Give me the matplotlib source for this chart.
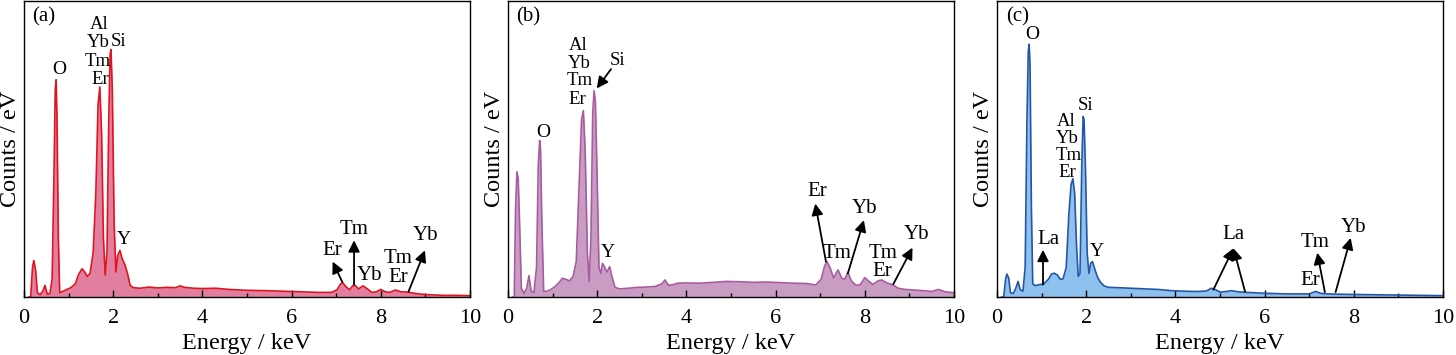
import matplotlib
matplotlib.use("Agg")
import matplotlib.pyplot as plt
from matplotlib.ticker import MultipleLocator

plt.rcParams['font.family'] = ['Liberation Serif', 'DejaVu Serif']

# EDS spectra (counts in % of the axis height)
E_a = [0.10, 0.15, 0.19, 0.22, 0.26, 0.30, 0.36, 0.42, 0.47, 0.52, 0.58, 0.63, 0.67, 0.70, 0.72, 0.74,
       0.77, 0.80, 0.85, 0.95, 1.05, 1.15, 1.22, 1.30, 1.36, 1.42, 1.48, 1.55, 1.61, 1.66, 1.70, 1.74,
       1.78, 1.82, 1.86, 1.90, 1.93, 1.95, 1.98, 2.02, 2.06, 2.10, 2.15, 2.20, 2.26, 2.32, 2.38, 2.45,
       2.6, 2.8, 3.0, 3.2, 3.4, 3.5, 3.6, 3.8, 4.0, 4.3, 4.6, 5.0, 5.4, 5.8, 6.2, 6.6, 6.9, 7.02, 7.1,
       7.15, 7.22, 7.3, 7.38, 7.42, 7.5, 7.6, 7.68, 7.8, 7.9, 8.0, 8.1, 8.2, 8.33, 8.45, 8.6, 8.75,
       8.9, 9.1, 9.4, 9.7, 10.0]
counts_a = [0, 0, 10, 12.4, 9, 1.5, 0.8, 2, 4, 1.0, 1.2, 6, 40, 70, 73.4, 60,
            20, 1.5, 1.8, 2.5, 3.2, 4.5, 7.5, 9.6, 8.5, 7.0, 8, 15, 35, 65, 71, 55,
            20, 7.5, 15, 60, 82, 83.6, 70, 25, 8.5, 14, 15.8, 13, 11, 8, 4, 3.2,
            3.0, 3.4, 3.1, 3.3, 3.2, 3.8, 3.3, 3.0, 2.9, 3.0, 2.6, 2.3, 2.2, 2.0, 1.8, 1.6, 1.6, 2.5, 4.5,
            4.8, 3.5, 2.5, 4.0, 4.0, 2.8, 3.8, 3.0, 1.6, 1.8, 2.6, 1.8, 1.6, 2.4, 1.8, 1.7, 1.3,
            1.0, 0.8, 0.6, 0.6, 0.5]

E_b = [0.10, 0.14, 0.17, 0.20, 0.23, 0.26, 0.30, 0.36, 0.42, 0.47, 0.52, 0.58, 0.64, 0.68, 0.71, 0.73,
       0.76, 0.80, 0.85, 0.95, 1.05, 1.15, 1.22, 1.30, 1.38, 1.46, 1.53, 1.60, 1.65, 1.69, 1.73, 1.78,
       1.82, 1.86, 1.90, 1.93, 1.96, 2.00, 2.04, 2.08, 2.12, 2.17, 2.22, 2.28, 2.33, 2.40, 2.5, 2.7,
       2.9, 3.1, 3.3, 3.45, 3.52, 3.6, 3.7, 3.8, 4.0, 4.3, 4.6, 4.9, 5.2, 5.5, 5.8, 6.1, 6.4, 6.7, 6.9,
       7.02, 7.1, 7.15, 7.22, 7.3, 7.4, 7.48, 7.55, 7.62, 7.7, 7.8, 7.9, 8.0, 8.08, 8.18, 8.3, 8.38,
       8.5, 8.62, 8.75, 8.9, 9.1, 9.3, 9.5, 9.65, 9.8, 10.0]
counts_b = [0, 0, 30, 42.3, 40, 25, 3, 1.3, 3, 7.3, 2, 1.5, 10, 45, 52.9, 50,
            25, 2, 1.9, 2.5, 3.5, 5, 6.4, 6, 5.5, 7, 12, 40, 60, 63, 50, 15,
            5.3, 20, 62, 69.7, 66, 40, 10, 8, 11.4, 10, 8.5, 10.3, 7, 3.3, 2.8, 3.0,
            3.3, 3.4, 3.6, 4.5, 5.8, 4.0, 4.2, 4.7, 4.8, 4.7, 5.0, 5.3, 5.2, 5.0, 5.1, 4.9, 4.7, 4.6, 4.1,
            6, 10.5, 12, 10, 6.5, 9.2, 6.5, 6, 8.4, 5.5, 4.0, 4.2, 6.6, 5.5, 4.3, 5.5, 5.8,
            4.8, 4.2, 3.0, 2.6, 2.4, 2.2, 1.9, 2.6, 1.8, 1.5]

E_c = [0.10, 0.15, 0.19, 0.22, 0.26, 0.30, 0.36, 0.42, 0.47, 0.52, 0.58, 0.63, 0.67, 0.70, 0.72, 0.74,
       0.77, 0.80, 0.85, 0.95, 1.05, 1.15, 1.22, 1.28, 1.35, 1.42, 1.48, 1.55, 1.61, 1.66, 1.70, 1.74,
       1.78, 1.82, 1.86, 1.90, 1.93, 1.95, 1.98, 2.02, 2.06, 2.10, 2.14, 2.20, 2.26, 2.32, 2.40, 2.5,
       2.7, 3.0, 3.3, 3.6, 3.9, 4.2, 4.5, 4.7, 4.8, 4.9, 5.0, 5.15, 5.25, 5.4, 5.6, 6.0, 6.5, 7.0,
       7.1, 7.15, 7.25, 7.4, 7.6, 8.0, 8.5, 9.0, 9.5, 10.0]
counts_c = [0, 0, 6, 7.8, 6.5, 1.5, 1.2, 3, 5.3, 2.5, 2, 10, 60, 83, 85.4, 78,
            30, 4.5, 3.9, 4.2, 4.5, 6.0, 7.8, 8.1, 7.5, 6.0, 6.2, 10, 28, 38, 40, 35,
            18, 7, 8, 45, 61, 60, 45, 15, 8, 11.5, 12, 9, 6.5, 5, 3.8, 3.3,
            3.2, 3.0, 2.8, 2.6, 2.2, 2.0, 1.9, 2.1, 3.0, 2.5, 1.7, 1.9, 2.2, 1.8, 1.6, 1.3, 1.1, 1.1,
            1.7, 1.9, 1.3, 1.1, 1.0, 0.9, 0.8, 0.7, 0.6, 0.5]

# peak labels: (text, energy, height, font size)
labels_a = [("O", 0.79, 77, 14), ("Al", 1.68, 92, 13.5), ("Yb", 1.67, 86, 13.5), ("Tm", 1.65, 79.5, 13.5),
            ("Er", 1.70, 73.5, 13.5), ("Si", 2.11, 86.5, 13.5), ("Y", 2.23, 19.5, 14),
            ("Er", 6.91, 15.8, 15), ("Tm", 7.40, 23, 15), ("Yb", 7.74, 7.2, 15),
            ("Tm", 8.39, 13.2, 15), ("Er", 8.39, 6.7, 15), ("Yb", 9.01, 20.8, 15)]
arrows_a = [(7.14, 5.0, 6.92, 12.0), (7.40, 4.2, 7.40, 19.2), (8.62, 1.8, 8.99, 15.8)]

labels_b = [("O", 0.78, 55.5, 14), ("Al", 1.58, 85, 13.5), ("Yb", 1.60, 79, 13.5), ("Tm", 1.60, 73.3, 13.5),
            ("Er", 1.56, 66.6, 13.5), ("Si", 2.46, 80, 13.5), ("Y", 2.23, 15.2, 14),
            ("Er", 6.94, 35.6, 15), ("Tm", 7.38, 14.8, 15), ("Yb", 7.99, 29.8, 15),
            ("Tm", 8.40, 14.6, 15), ("Er", 8.40, 8.6, 15), ("Yb", 9.16, 21, 15)]
arrows_b = [(2.31, 77, 1.99, 70.5), (7.13, 12, 6.89, 31.6), (7.62, 8.0, 7.98, 26), (8.64, 4.4, 9.07, 16.7)]

labels_c = [("O", 0.79, 88.8, 14), ("Si", 1.99, 64.6, 13.5), ("Al", 1.55, 59.4, 13.5), ("Yb", 1.57, 53.6, 13.5),
            ("Tm", 1.60, 48, 13.5), ("Er", 1.58, 42.2, 13.5), ("Y", 2.23, 15.3, 14),
            ("La", 1.16, 19.4, 15), ("La", 5.31, 21, 15), ("Tm", 7.13, 18.3, 15),
            ("Er", 7.03, 5.6, 15), ("Yb", 8.0, 23.6, 15)]
arrows_c = [(1.03, 4.2, 1.03, 16), (4.85, 2.5, 5.30, 16.5), (5.56, 1.9, 5.30, 16.5),
            (7.35, 1.7, 7.18, 15), (7.59, 1.7, 7.93, 20)]

panels = [("(a)", E_a, counts_a, labels_a, arrows_a, "#e0141e", "#e27fa0", 0.0165),
          ("(b)", E_b, counts_b, labels_b, arrows_b, "#a85ca0", "#c99cc4", 0.3489),
          ("(c)", E_c, counts_c, labels_c, arrows_c, "#2456a8", "#8fc1ee", 0.6848)]

fig = plt.figure(figsize=(14.56, 3.55), dpi=100)

for tag, E, cnt, labels, arrows, lc, fc, left in panels:
    ax = fig.add_axes([left, 0.163, 0.3063, 0.834])
    ax.fill_between(E, cnt, 0, color=fc, lw=0)
    ax.plot(E, cnt, color=lc, lw=1.2)
    ax.set_xlim(0, 10)
    ax.set_ylim(0, 100)
    ax.set_yticks([])
    ax.xaxis.set_major_locator(MultipleLocator(2))
    ax.xaxis.set_minor_locator(MultipleLocator(1))
    ax.tick_params(axis='x', which='major', direction='in', length=5, width=1, labelsize=16, pad=8.5)
    ax.tick_params(axis='x', which='minor', direction='in', length=3, width=1)
    for s in ax.spines.values():
        s.set_linewidth(1)
    ax.set_xlabel("Energy / keV", fontsize=17.5, labelpad=4)
    ax.set_ylabel("Counts / eV", fontsize=17.5)
    ax.yaxis.set_label_coords(-0.006, 0.5)
    ax.text(0.45, 94.5, tag, fontsize=15, ha='center', va='center')
    for t, x, y, fs in labels:
        ax.text(x, y, t, fontsize=fs, ha='center', va='center')
    for x0, y0, x1, y1 in arrows:
        ax.annotate("", xy=(x1, y1), xytext=(x0, y0),
                    arrowprops=dict(arrowstyle='-|>', color='k', lw=1.3, mutation_scale=17,
                                    shrinkA=0, shrinkB=0))

fig.savefig("out.png", dpi=100)
